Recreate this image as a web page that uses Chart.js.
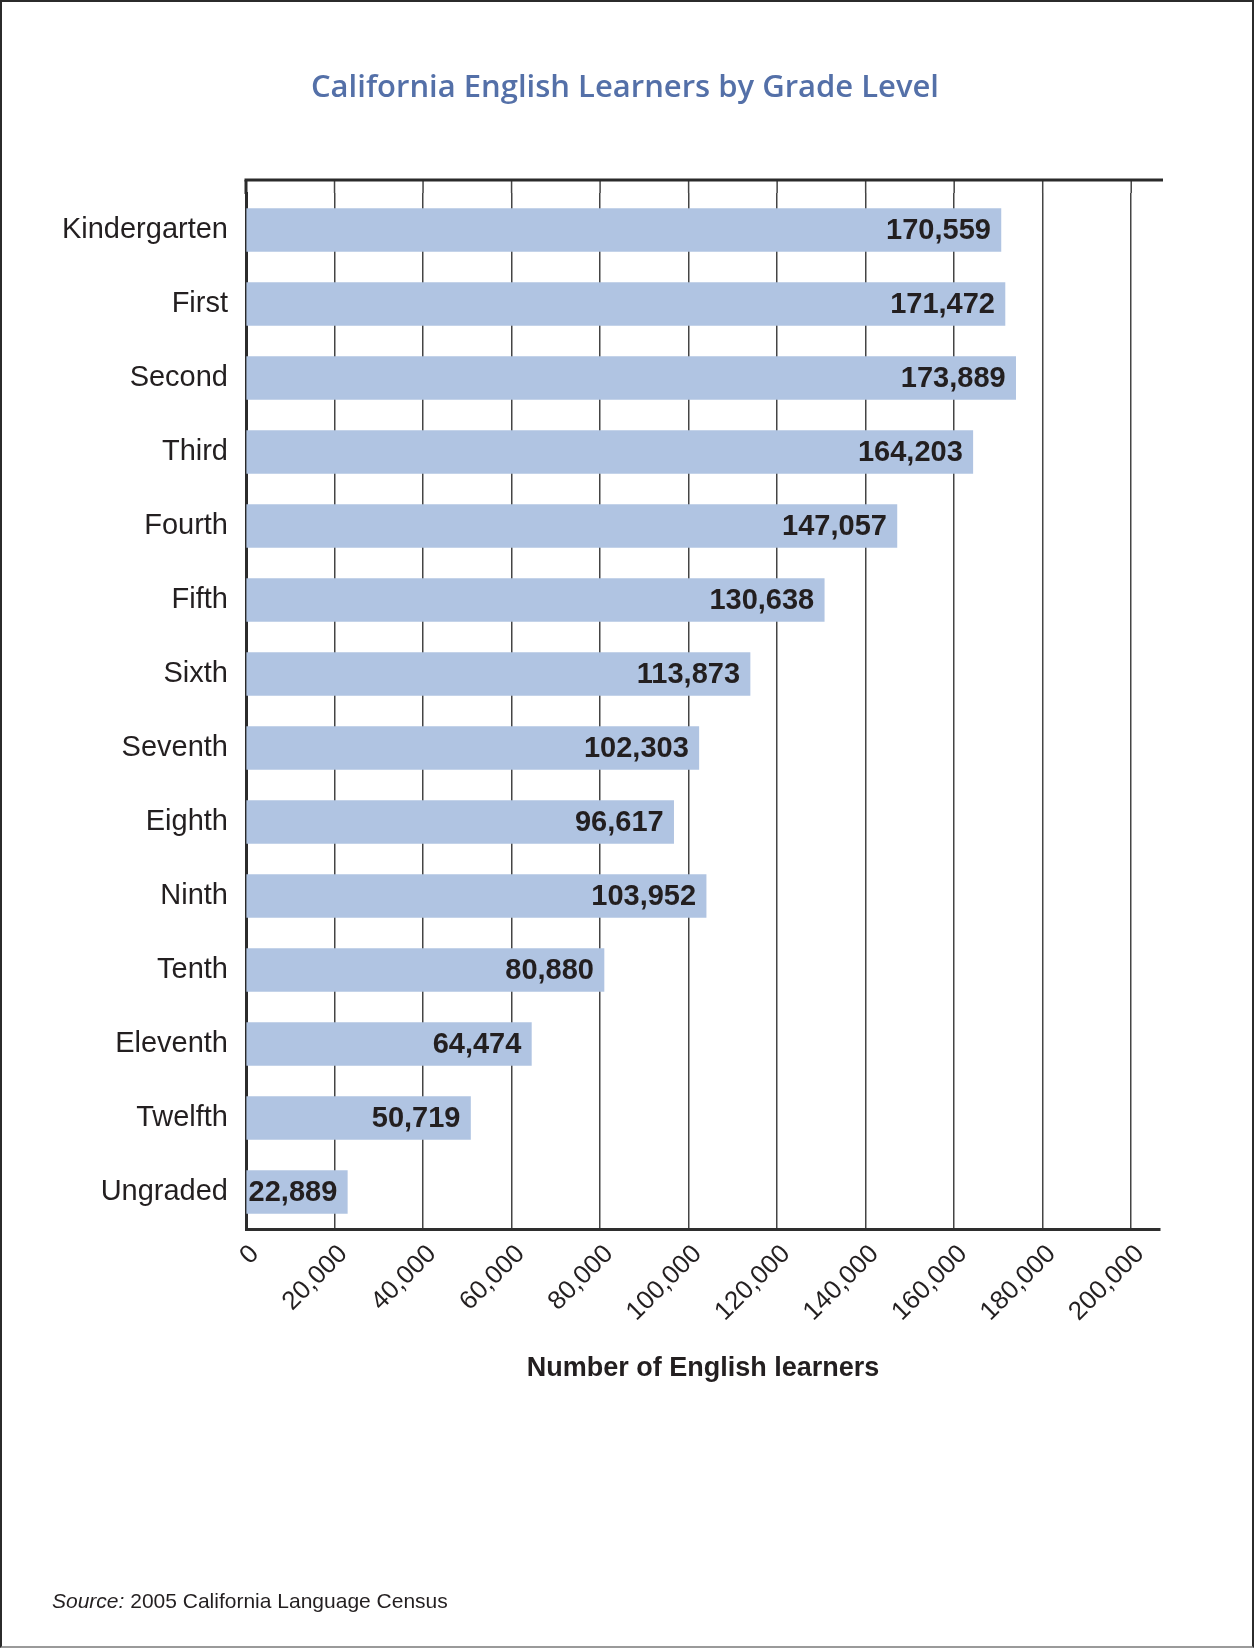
<!DOCTYPE html>
<html>
<head>
<meta charset="utf-8">
<title>California English Learners by Grade Level</title>
<script src="https://cdn.jsdelivr.net/npm/chart.js@4/dist/chart.umd.min.js"></script>
<style>
  body { margin: 0; background: #fff; }
  #page { position: relative; width: 1254px; height: 1648px; overflow: hidden; background: #fff; }
  #wrap { position: absolute; left: 0; top: 0; width: 1254px; height: 1648px; }
  #title { position: absolute; left: 0; top: 64px; width: 1250px; line-height: 42px; text-align: center;
    font: 600 31px "Open Sans", Lato, sans-serif; color: #5470a8; }
  #frame { position: absolute; left: 0; top: 0; right: 0; bottom: 0; border: 2px solid #2b2b2b; border-bottom-color: #9a9a9a; pointer-events: none; }
  #source { position: absolute; left: 52px; top: 1589px; font: 21px "Liberation Sans", Arial, sans-serif; color: #231f20; }
</style>
</head>
<body>
<div id="page">
  <div id="wrap"><canvas id="chart"></canvas></div>
  <div id="title">California English Learners by Grade Level</div>
  <div id="source"><i>Source:</i> 2005 California Language Census</div>
  <div id="frame"></div>
</div>
<script>
const grades = ['Kindergarten', 'First', 'Second', 'Third', 'Fourth', 'Fifth', 'Sixth',
	'Seventh', 'Eighth', 'Ninth', 'Tenth', 'Eleventh', 'Twelfth', 'Ungraded'];
const learners = [170559, 171472, 173889, 164203, 147057, 130638, 113873,
	102303, 96617, 103952, 80880, 64474, 50719, 22889];
const xTicks = [0, 20000, 40000, 60000, 80000, 100000, 120000, 140000, 160000, 180000, 200000];
const xMax = 206500;

const sans = '"Liberation Sans", Arial, sans-serif';

// bold value written inside the end of each bar
const valueLabels = {
	id: 'valueLabels',
	afterDatasetsDraw(chart) {
		const ctx = chart.ctx;
		const meta = chart.getDatasetMeta(0);
		ctx.save();
		ctx.font = 'bold 29px ' + sans;
		ctx.fillStyle = '#231f20';
		ctx.textAlign = 'right';
		ctx.textBaseline = 'middle';
		meta.data.forEach((bar, i) => {
			ctx.fillText(learners[i].toLocaleString('en-US'), bar.x - 10, bar.y + 1);
		});
		ctx.restore();
	}
};

// top rule of the plot box, with the grid running up to it
const topFrame = {
	id: 'topFrame',
	afterDraw(chart) {
		const { ctx, chartArea, scales } = chart;
		const top = chartArea.top - 13;
		ctx.save();
		ctx.strokeStyle = '#444';
		ctx.lineWidth = 1.5;
		xTicks.forEach(v => {
			const px = scales.x.getPixelForValue(v);
			ctx.beginPath();
			ctx.moveTo(px, top);
			ctx.lineTo(px, chartArea.top);
			ctx.stroke();
		});
		ctx.strokeStyle = '#2b2b2b';
		ctx.lineWidth = 3;
		ctx.beginPath();
		ctx.moveTo(chartArea.left, top);
		ctx.lineTo(chartArea.left, chartArea.top + 1);
		ctx.stroke();
		ctx.beginPath();
		ctx.moveTo(chartArea.left - 1.5, top);
		ctx.lineTo(chartArea.right + 3, top);
		ctx.stroke();
		ctx.restore();
	}
};

const ctx = document.getElementById('chart').getContext('2d');
new Chart(ctx, {
	type: 'bar',
	data: {
		labels: grades,
		datasets: [{
			label: 'Number of English learners',
			data: learners,
			backgroundColor: '#b0c4e2',
			borderWidth: 0,
			barThickness: 43
		}]
	},
	options: {
		indexAxis: 'y',
		responsive: true,
		maintainAspectRatio: false,
		animation: false,
		devicePixelRatio: 1,
		layout: { padding: { left: 0, right: 94, top: 193, bottom: 259 } },
		plugins: {
			legend: { display: false },
			tooltip: { enabled: false },
			title: { display: false }
		},
		scales: {
			x: {
				min: 0,
				max: xMax,
				afterBuildTicks: scale => { scale.ticks = xTicks.map(v => ({ value: v })); },
				afterFit: scale => { scale.height = 160; },
				grid: { color: '#444', lineWidth: 1.5, drawTicks: false },
				border: { display: true, color: '#2e2e2e', width: 3 },
				ticks: {
					minRotation: 45,
					maxRotation: 45,
					padding: 10,
					labelOffset: 9,
					color: '#231f20',
					font: { family: sans, size: 26 },
					callback: v => v.toLocaleString('en-US')
				},
				title: {
					display: true,
					text: 'Number of English learners',
					color: '#231f20',
					font: { family: sans, size: 27, weight: 'bold' },
					padding: { top: 0, bottom: 4 }
				}
			},
			y: {
				afterFit: scale => { scale.width = 246; },
				grid: { display: false, drawTicks: false },
				border: { display: true, color: '#2b2b2b', width: 3 },
				ticks: { padding: 18, color: '#231f20', font: { family: sans, size: 29 }, autoSkip: false }
			}
		}
	},
	plugins: [valueLabels, topFrame]
});
</script>
</body>
</html>
